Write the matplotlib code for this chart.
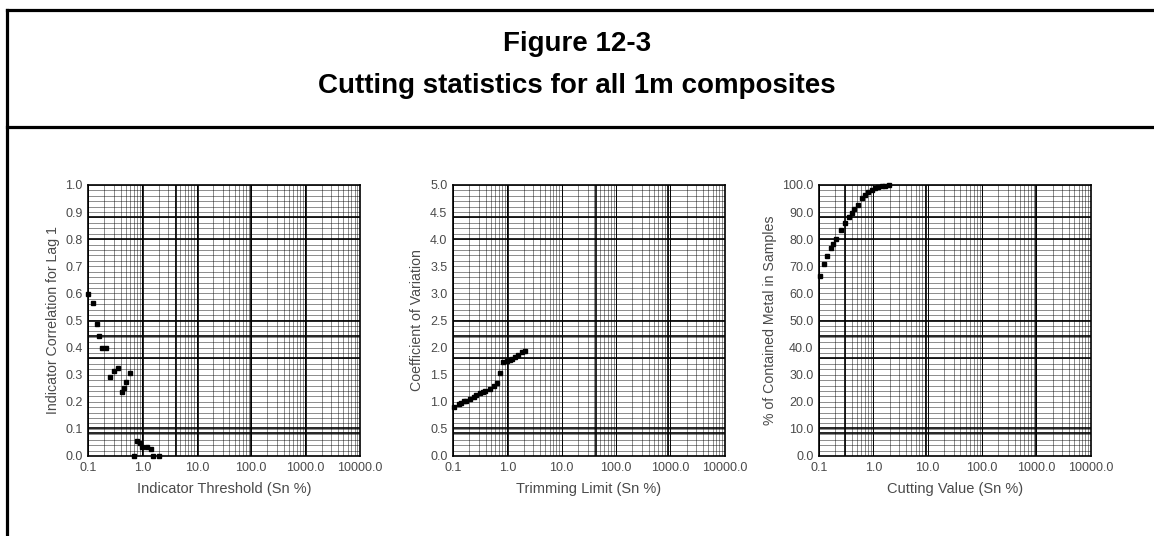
import numpy as np
import matplotlib
matplotlib.use("Agg")
import matplotlib.pyplot as plt
from matplotlib.lines import Line2D
from matplotlib.ticker import FixedLocator, NullFormatter

plt.rcParams['font.family'] = ['Liberation Sans', 'DejaVu Sans']

# data
corr_x = [0.10, 0.122, 0.144, 0.16, 0.18, 0.21, 0.258, 0.305, 0.357, 0.42, 0.466,
          0.50, 0.60, 0.70, 0.80, 0.89, 1.0, 1.2, 1.44, 1.6, 2.0]
corr_y = [0.597, 0.563, 0.487, 0.444, 0.397, 0.397, 0.293, 0.314, 0.325, 0.237, 0.25,
          0.272, 0.305, 0.0, 0.057, 0.047, 0.032, 0.032, 0.025, 0.0, 0.0]

cv_x = [0.106, 0.127, 0.140, 0.157, 0.173, 0.202, 0.240, 0.268, 0.309, 0.355, 0.392,
        0.471, 0.558, 0.64, 0.72, 0.85, 1.0, 1.1, 1.2, 1.4, 1.6, 1.85, 2.1]
cv_y = [0.90, 0.96, 0.98, 1.01, 1.02, 1.05, 1.09, 1.12, 1.16, 1.18, 1.19,
        1.24, 1.30, 1.35, 1.53, 1.74, 1.76, 1.77, 1.78, 1.82, 1.87, 1.91, 1.93]

metal_x = [0.103, 0.122, 0.14, 0.166, 0.18, 0.202, 0.253, 0.30, 0.355, 0.398, 0.445,
           0.53, 0.61, 0.70, 0.81, 0.93, 1.07, 1.23, 1.42, 1.63, 1.98]
metal_y = [66.5, 70.8, 73.8, 76.6, 78.2, 80.1, 83.4, 85.9, 88.3, 89.8, 91.0,
           92.6, 95.1, 96.4, 97.4, 98.2, 98.8, 99.1, 99.5, 99.8, 100.0]

x_ticks = [0.1, 1.0, 10.0, 100.0, 1000.0, 10000.0]
x_ticklabels = ['0.1', '1.0', '10.0', '100.0', '1000.0', '10000.0']

panels = [
    dict(x=corr_x, y=corr_y, ymax=1.0, ystep=0.1, yfmt='{:.1f}',
         xlabel='Indicator Threshold (Sn %)',
         ylabel='Indicator Correlation for Lag 1',
         left=0.0763, vthick=[0.201, 0.324, 0.405, 0.601, 0.802]),
    dict(x=cv_x, y=cv_y, ymax=5.0, ystep=0.5, yfmt='{:.1f}',
         xlabel='Trimming Limit (Sn %)',
         ylabel='Coefficient of Variation',
         left=0.3925, vthick=[0.204, 0.526, 0.79]),
    dict(x=metal_x, y=metal_y, ymax=100.0, ystep=10.0, yfmt='{:.1f}',
         xlabel='Cutting Value (Sn %)',
         ylabel='% of Contained Metal in Samples',
         left=0.7097, vthick=[0.095, 0.395, 0.797]),
]

# heavier grid lines of the printed graph paper (fraction of axis)
hthick = [0.883, 0.80, 0.498, 0.443, 0.36, 0.104, 0.084]

fig = plt.figure(figsize=(11.54, 5.36), dpi=100)

# outer frame and header separator
lw_frame = 2.3
fig.add_artist(Line2D([7/1154, 7/1154], [0, 1 - 10/536], color='black', lw=lw_frame))
fig.add_artist(Line2D([7/1154, 1.0], [1 - 10/536, 1 - 10/536], color='black', lw=lw_frame))
fig.add_artist(Line2D([7/1154, 1.0], [1 - 127/536, 1 - 127/536], color='black', lw=lw_frame))

fig.text(0.5, 1 - 44/536, 'Figure 12-3', ha='center', va='center',
         fontsize=20, fontweight='bold')
fig.text(0.5, 1 - 86/536, 'Cutting statistics for all 1m composites', ha='center',
         va='center', fontsize=20, fontweight='bold')

grey = '#4a4a4a'
for p in panels:
    ax = fig.add_axes([p['left'], 0.1493, 0.2355, 0.5056])
    ax.set_xscale('log')
    ax.set_xlim(0.1, 10000)
    ax.set_ylim(0, p['ymax'])

    # graph paper grid
    minor_x = [m * 10.0**e for e in range(-1, 4) for m in range(2, 10)]
    for xv in minor_x:
        ax.axvline(xv, color='black', lw=0.45, alpha=0.7, zorder=1)
    for xv in x_ticks:
        ax.axvline(xv, color='black', lw=0.7, zorder=1)
    for yv in np.linspace(0, p['ymax'], 51):
        ax.axhline(yv, color='black', lw=0.45, alpha=0.7, zorder=1)
    for f in hthick:
        ax.axhline(f * p['ymax'], color='black', lw=1.2, zorder=1)
    for f in p['vthick']:
        ax.axvline(0.1 * 10**(5 * f), color='black', lw=1.2, zorder=1)

    ax.plot(p['x'], p['y'], linestyle='none', marker='s', ms=2.6,
            color='black', zorder=3, clip_on=False)

    ax.xaxis.set_major_locator(FixedLocator(x_ticks))
    ax.set_xticklabels(x_ticklabels)
    ax.xaxis.set_minor_formatter(NullFormatter())
    yt = np.arange(0, p['ymax'] + p['ystep'] / 2, p['ystep'])
    ax.set_yticks(yt)
    ax.set_yticklabels([p['yfmt'].format(v) for v in yt])
    ax.tick_params(which='both', length=0, labelsize=9, colors=grey, pad=4)
    ax.set_xlabel(p['xlabel'], fontsize=10.5, color=grey, labelpad=6)
    ax.set_ylabel(p['ylabel'], fontsize=10.2, color=grey, labelpad=4)
    for s in ax.spines.values():
        s.set_linewidth(1.2)
        s.set_color('black')

fig.savefig('out.png', dpi=100)
